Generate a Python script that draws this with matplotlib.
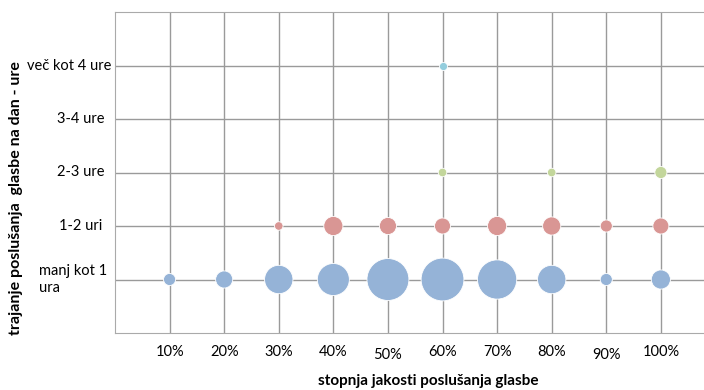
import matplotlib.pyplot as plt

plt.rcParams['font.family'] = ['Lato', 'DejaVu Sans']

# stopnja jakosti (x) in trajanje (y) - stevilo odgovorov = velikost mehurcka
x_ticks = [10, 20, 30, 40, 50, 60, 70, 80, 90, 100]
x_labels = ['10%', '20%', '30%', '40%', '50%', '60%', '70%', '80%', '90%', '100%']
y_ticks = [1, 2, 3, 4, 5]
y_labels = ['manj kot 1\nura', '1-2 uri', '2-3 ure', '3-4 ure', 'več kot 4 ure']

manj_1_x = [10, 20, 30, 40, 50, 60, 70, 80, 90, 100]
manj_1_n = [2, 4, 11, 14, 24, 25, 21, 11, 2, 5]

ure_1_2_x = [30, 40, 50, 60, 70, 80, 90, 100]
ure_1_2_n = [1, 5, 4, 3.5, 5, 4.5, 2, 3.5]

ure_2_3_x = [60, 80, 100]
ure_2_3_n = [1, 1, 2]

vec_4_x = [60]
vec_4_n = [0.9]

fig = plt.figure(figsize=(7.04, 3.90), dpi=100)
ax = fig.add_axes([115 / 704, 1 - 333 / 390, 1 - 115 / 704, 321 / 390])

k = 38
ax.scatter(manj_1_x, [1] * len(manj_1_x), s=[k * n for n in manj_1_n],
           color='#95B3D7', edgecolor='white', linewidth=0.6, zorder=3)
ax.scatter(ure_1_2_x, [2] * len(ure_1_2_x), s=[k * n for n in ure_1_2_n],
           color='#D99694', edgecolor='white', linewidth=0.6, zorder=3)
ax.scatter(ure_2_3_x, [3] * len(ure_2_3_x), s=[k * n for n in ure_2_3_n],
           color='#C3D69B', edgecolor='white', linewidth=0.6, zorder=3)
ax.scatter(vec_4_x, [5] * len(vec_4_x), s=[k * n for n in vec_4_n],
           color='#93CDDD', edgecolor='white', linewidth=0.6, zorder=3)

ax.set_xlim(0, 107.9)
ax.set_ylim(0, 6)
ax.set_xticks(x_ticks)
ax.set_yticks(y_ticks)
ax.set_xticklabels([])
ax.set_yticklabels([])
ax.tick_params(axis='both', length=0)

# oznake kategorij (kot v Excelu: sredinsko poravnane, kratke bolj desno)
for y, lab in zip(y_ticks, y_labels):
    if len(lab) < 8:
        dx = -25
    elif '\n' in lab:
        dx = -30
    else:
        dx = -33
    ax.annotate(lab, xy=(0, y), xycoords=('axes fraction', 'data'),
                xytext=(dx, 0), textcoords='offset points',
                ha='center', va='center', ma='left', fontsize=10.5)

for x, lab in zip(x_ticks, x_labels):
    dy = -16 if lab in ('50%', '90%') else -13.5
    ax.annotate(lab, xy=(x, 0), xycoords=('data', 'axes fraction'),
                xytext=(0, dy), textcoords='offset points',
                ha='center', va='center', fontsize=10.5)

ax.grid(True, color='#9a9a9a', linewidth=1, zorder=0)
ax.set_axisbelow(True)
for side in ['left', 'bottom', 'top']:
    ax.spines[side].set_color('#aaaaaa')
ax.spines['right'].set_visible(False)

fig.text(428 / 704, 1 - 381 / 390, 'stopnja jakosti poslušanja glasbe',
         ha='center', va='center', fontsize=11, fontweight='bold')
fig.text(16 / 704, 1 - 198 / 390, 'trajanje poslušanja  glasbe na dan - ure',
         ha='center', va='center', rotation=90, fontsize=11.5, fontweight='bold')

fig.savefig('out.png')
